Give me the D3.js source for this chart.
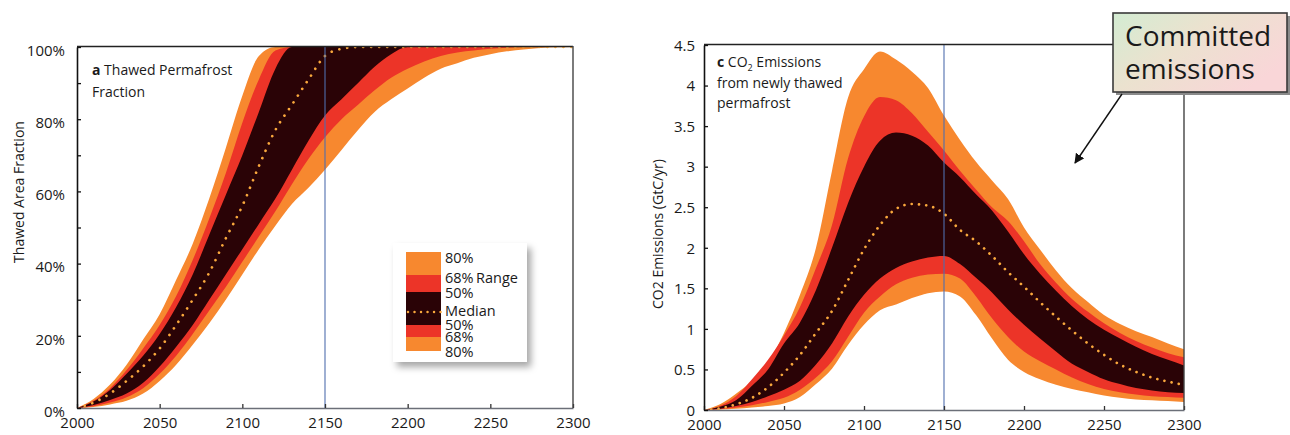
<!DOCTYPE html>
<html><head><meta charset="utf-8">
<script src="https://cdn.jsdelivr.net/npm/d3@7"></script>
<style>
html,body{margin:0;padding:0;background:#fff;}
svg{display:block;}
text{font-family:"Open Sans","Noto Sans",sans-serif;fill:#1a1a1a;}
</style></head>
<body>
<svg id="chart" width="1290" height="435"></svg>
<script>
// ---------------- DATA ----------------
const years = [2000,2010,2020,2030,2040,2050,2060,2070,2080,2090,2100,2110,2120,2130,2140,2150,
               2160,2170,2180,2190,2200,2210,2220,2230,2240,2250,2260,2270,2280,2290,2300];

// Panel a: thawed permafrost fraction (%)
const thawLo80 = [0,0.3,1,2,4,7.5,12,17.5,23.5,30,37,44,50.5,56.5,61,66,71.5,77,82,85.5,88.5,91.5,94,95.5,97,98,98.8,99.3,99.7,99.9,100];
const thawLo68 = [0,0.5,1.5,3,5.5,9.5,14.5,20.5,27,33.5,40.5,47.5,54.5,62,69,75,80,84,88,91.5,94,96,97.5,98.5,99,99.5,99.8,100,100,100,100];
const thawLo50 = [0,0.8,2.2,4,7,11.5,17,23,30,37,44,51,58,66,74,81,85.5,90,94.5,98,100,100,100,100,100,100,100,100,100,100,100];
const thawMed  = [0,1.5,4,7.5,11.5,16.5,23,30,37.5,47,56,67,77,84,91,97.5,99.5,100,100,100,100,100,100,100,100,100,100,100,100,100,100];
const thawHi50 = [0,1.8,5,9.5,14.5,20.5,28,37,48,59,70,82,94,100,100,100,100,100,100,100,100,100,100,100,100,100,100,100,100,100,100];
const thawHi68 = [0,2,5.5,10.5,16.5,23,31,41,52.5,65,79,91,99,100,100,100,100,100,100,100,100,100,100,100,100,100,100,100,100,100,100];
const thawHi80 = [0,2.5,6.5,12,19,26,35.5,45.5,58,72,86.5,97.5,100,100,100,100,100,100,100,100,100,100,100,100,100,100,100,100,100,100,100];

// Panel c: CO2 emissions from newly thawed permafrost (GtC/yr)
const co2Lo80 = [0,0.005,0.015,0.03,0.05,0.08,0.16,0.32,0.51,0.8,1.05,1.23,1.3,1.38,1.44,1.46,1.4,1.17,0.88,0.62,0.47,0.38,0.31,0.26,0.22,0.18,0.15,0.13,0.12,0.11,0.1];
const co2Lo68 = [0,0.01,0.03,0.06,0.1,0.15,0.25,0.4,0.6,0.9,1.2,1.4,1.55,1.63,1.67,1.68,1.62,1.4,1.13,0.9,0.72,0.6,0.5,0.4,0.32,0.26,0.22,0.19,0.17,0.16,0.15];
const co2Lo50 = [0,0.015,0.05,0.1,0.17,0.25,0.36,0.56,0.82,1.15,1.42,1.62,1.75,1.83,1.88,1.9,1.8,1.63,1.45,1.24,1.05,0.88,0.72,0.57,0.47,0.38,0.32,0.27,0.24,0.22,0.21];
const co2Med  = [0,0.02,0.07,0.15,0.28,0.46,0.68,0.95,1.22,1.6,1.98,2.28,2.48,2.54,2.52,2.42,2.22,2.08,1.9,1.7,1.52,1.33,1.15,0.98,0.82,0.68,0.56,0.47,0.4,0.35,0.31];
const co2Hi50 = [0,0.04,0.12,0.3,0.5,0.82,1.08,1.48,2.0,2.55,3.0,3.32,3.42,3.38,3.26,3.05,2.87,2.66,2.46,2.2,1.92,1.68,1.47,1.28,1.12,0.99,0.88,0.78,0.69,0.62,0.55];
const co2Hi68 = [0,0.05,0.17,0.38,0.62,0.92,1.27,1.75,2.28,3.1,3.62,3.86,3.82,3.66,3.43,3.2,2.95,2.72,2.5,2.33,2.08,1.8,1.57,1.37,1.21,1.07,0.95,0.85,0.77,0.7,0.65];
const co2Hi80 = [0,0.07,0.2,0.36,0.58,0.95,1.42,2.0,2.95,3.85,4.2,4.42,4.32,4.17,3.97,3.63,3.33,3.06,2.83,2.6,2.25,1.98,1.72,1.5,1.33,1.17,1.06,0.97,0.9,0.82,0.75];

// Ticks and labels
const xTicks = [2000,2050,2100,2150,2200,2250,2300];
const thawTicks = [0,10,20,30,40,50,60,70,80,90,100];
const co2Ticks = [0,0.5,1,1.5,2,2.5,3,3.5,4,4.5];
const markerYear = 2150;
const legendLabels = ["80%","68%","50%","Median","50%","68%","80%"];
const legendRangeLabel = "Range";
const calloutLines = ["Committed","emissions"];

// ---------------- DRAWING ----------------
const svg = d3.select("#chart");
const C = {orange:"#F7882F", red:"#EC3428", dark:"#2A0306", median:"#F9A83D", blue:"#4F6EAE"};

const defs = svg.append("defs");
const f = defs.append("filter").attr("id","shadow").attr("x","-20%").attr("y","-20%").attr("width","150%").attr("height","150%");
f.append("feDropShadow").attr("dx",4).attr("dy",5).attr("stdDeviation",3.5).attr("flood-color","#000").attr("flood-opacity",0.35);
const grad = defs.append("linearGradient").attr("id","callgrad").attr("x1","0").attr("y1","0").attr("x2","1").attr("y2","0.6");
grad.append("stop").attr("offset","0%").attr("stop-color","#d3ecd2");
grad.append("stop").attr("offset","45%").attr("stop-color","#ebe2cf");
grad.append("stop").attr("offset","100%").attr("stop-color","#f9d6d8");
defs.append("marker").attr("id","arrow").attr("viewBox","0 0 10 10").attr("refX",9).attr("refY",5)
  .attr("markerWidth",10).attr("markerHeight",10).attr("markerUnits","userSpaceOnUse").attr("orient","auto")
  .append("path").attr("d","M0,0 L10,5 L0,10 Z").attr("fill","#111");

function drawPanel(opt){
  const x = d3.scaleLinear().domain([2000,2300]).range(opt.xr);
  const y = d3.scaleLinear().domain(opt.yd).range(opt.yr);
  const clipId = "clip"+opt.id;
  defs.append("clipPath").attr("id",clipId).append("rect")
    .attr("x",opt.xr[0]).attr("y",opt.yr[1]).attr("width",opt.xr[1]-opt.xr[0]).attr("height",opt.yr[0]-opt.yr[1]);
  const g = svg.append("g");
  const plot = g.append("g").attr("clip-path",`url(#${clipId})`);
  const layers = [[opt.lo80,opt.hi80,C.orange],[opt.lo68,opt.hi68,C.red],[opt.lo50,opt.hi50,C.dark]];
  layers.forEach(([lo,hi,col])=>{
    const area = d3.area().curve(d3.curveMonotoneX)
      .x((d,i)=>x(years[i])).y0((d,i)=>y(lo[i])).y1((d,i)=>y(hi[i]));
    plot.append("path").datum(years).attr("d",area).attr("fill",col);
  });
  const line = d3.line().curve(d3.curveMonotoneX).x((d,i)=>x(years[i])).y((d,i)=>y(opt.med[i]));
  plot.append("path").datum(years).attr("d",line).attr("fill","none").attr("stroke",C.median)
    .attr("stroke-width",2.7).attr("stroke-linecap","round").attr("stroke-dasharray",opt.dash);

  // marker line at 2150
  g.append("line").attr("x1",x(markerYear)).attr("x2",x(markerYear)).attr("y1",opt.yr[1]).attr("y2",opt.yr[0])
    .attr("stroke",C.blue).attr("stroke-width",1.1);

  // axes
  const xa = g.append("g").attr("transform",`translate(0,${opt.yr[0]})`)
    .call(d3.axisBottom(x).tickValues(xTicks).tickFormat(d3.format("d")).tickSizeInner(-4).tickSizeOuter(0).tickPadding(9));
  xa.select(".domain").attr("stroke","#6b6f78").attr("stroke-width",1.3);
  xa.selectAll(".tick line").attr("stroke","#333").attr("stroke-width",1.3);
  xa.selectAll("text").attr("font-size",15).attr("fill","#1a1a1a").attr("font-family","Open Sans");

  const ya = g.append("g").attr("transform",`translate(${opt.xr[0]},0)`)
    .call(d3.axisLeft(y).tickValues(opt.yTicks).tickFormat(opt.yFmt).tickSizeInner(-4).tickSizeOuter(0).tickPadding(opt.yPad));
  ya.select(".domain").attr("stroke","#111").attr("stroke-width",1.6);
  ya.selectAll(".tick line").attr("stroke","#111").attr("stroke-width",1.3);
  ya.selectAll("text").attr("font-size",15).attr("fill","#1a1a1a").attr("font-family","Open Sans").attr("dy",opt.yDy);

  // frame
  g.append("line").attr("x1",opt.xr[0]).attr("x2",opt.topEnd).attr("y1",opt.yr[1]-0.5).attr("y2",opt.yr[1]-0.5)
    .attr("stroke","#222").attr("stroke-width",1.3);
  g.append("line").attr("x1",opt.xr[1]).attr("x2",opt.xr[1]).attr("y1",opt.rightStart).attr("y2",opt.yr[0])
    .attr("stroke","#444").attr("stroke-width",1.4);

  // y title
  g.append("text").attr("transform",`translate(${opt.yTitleX},${opt.yTitleY}) rotate(-90)`)
    .attr("text-anchor","middle").attr("font-size",14).text(opt.yTitle);
  return {g,x,y};
}

// Panel a
const pa = drawPanel({id:"a", xr:[77,573], yd:[0,100], yr:[408,47],
  lo80:thawLo80, lo68:thawLo68, lo50:thawLo50, med:thawMed, hi50:thawHi50, hi68:thawHi68, hi80:thawHi80,
  dash:"0.01 8", yTicks:thawTicks, yFmt:d=> d%20===0 ? d+"%" : "", yPad:12, yDy:"0.55em",
  topEnd:573, rightStart:46, yTitle:"Thawed Area Fraction", yTitleX:24, yTitleY:192});

const ta = pa.g.append("text").attr("x",92).attr("y",75).attr("font-size",14);
ta.append("tspan").attr("font-weight","bold").text("a");
ta.append("tspan").text(" Thawed Permafrost");
pa.g.append("text").attr("x",92).attr("y",97).attr("font-size",14).text("Fraction");

// Legend
const lg = pa.g.append("g");
lg.append("rect").attr("x",393).attr("y",243).attr("width",134).attr("height",119).attr("fill","#fff").attr("filter","url(#shadow)");
const swX = 406, swW = 35;
const segs = [[252,275,C.orange],[275,292,C.red],[292,325,C.dark],[325,337,C.red],[337,351,C.orange]];
segs.forEach(([a,b,c])=> lg.append("rect").attr("x",swX).attr("y",a).attr("width",swW).attr("height",b-a).attr("fill",c));
lg.append("line").attr("x1",swX+2).attr("x2",swX+swW).attr("y1",312).attr("y2",312)
  .attr("stroke",C.median).attr("stroke-width",2.5).attr("stroke-linecap","round").attr("stroke-dasharray","0.01 6.5");
const legY = [258,278,293,311,325,337,352];
legendLabels.forEach((t,i)=> lg.append("text").attr("x",445).attr("y",legY[i]).attr("dy","0.35em").attr("font-size",14.5).text(t));
lg.append("text").attr("x",476).attr("y",legY[1]).attr("dy","0.35em").attr("font-size",14.5).text(legendRangeLabel);

// Panel c
const pc = drawPanel({id:"c", xr:[704,1184], yd:[0,4.5], yr:[410,45],
  lo80:co2Lo80, lo68:co2Lo68, lo50:co2Lo50, med:co2Med, hi50:co2Hi50, hi68:co2Hi68, hi80:co2Hi80,
  dash:"0.01 7.3", yTicks:co2Ticks, yFmt:d=>String(d), yPad:9, yDy:"0.35em",
  topEnd:1113, rightStart:92, yTitle:"CO2 Emissions (GtC/yr)", yTitleX:663, yTitleY:234});

const tc = pc.g.append("text").attr("x",717).attr("y",67).attr("font-size",14);
tc.append("tspan").attr("font-weight","bold").text("c");
tc.append("tspan").text(" CO");
tc.append("tspan").attr("font-size",9).attr("dy",4).text("2");
tc.append("tspan").attr("dy",-4).text(" Emissions");
pc.g.append("text").attr("x",717).attr("y",88).attr("font-size",14).text("from newly thawed");
pc.g.append("text").attr("x",717).attr("y",108).attr("font-size",14).text("permafrost");

// Callout
const cg = svg.append("g");
cg.append("rect").attr("x",1116).attr("y",16).attr("width",174).attr("height",79).attr("fill","#8a8a8a");
cg.append("rect").attr("x",1113).attr("y",13).attr("width",174).attr("height",79)
  .attr("fill","url(#callgrad)").attr("stroke","#3a3a3a").attr("stroke-width",1.6);
calloutLines.forEach((t,i)=> cg.append("text").attr("x",1125).attr("y",46+i*33)
  .attr("font-family","Liberation Sans, Arial, sans-serif").attr("font-size",28).attr("fill","#111").text(t));
cg.append("line").attr("x1",1122).attr("y1",94).attr("x2",1075).attr("y2",163)
  .attr("stroke","#111").attr("stroke-width",1.4).attr("marker-end","url(#arrow)");
</script>
</body></html>
